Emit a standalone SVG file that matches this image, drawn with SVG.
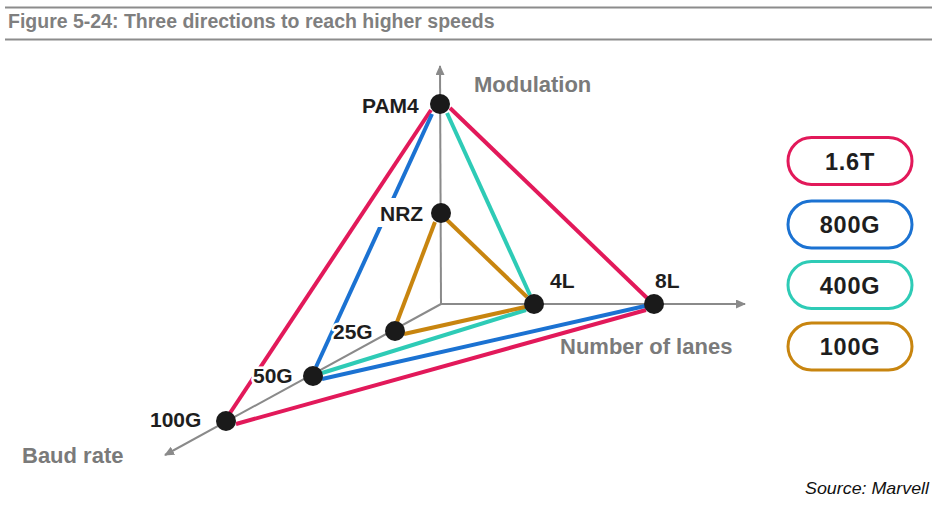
<svg xmlns="http://www.w3.org/2000/svg" width="936" height="508" viewBox="0 0 936 508">
<style>
.rule{stroke:#8c8c8c;stroke-width:2}
.title{font-family:"Liberation Sans",Arial,sans-serif;font-weight:bold;font-size:19.5px;fill:#7f7f7f}
.axis{stroke:#8a8a8a;stroke-width:2;fill:none}
.axlbl{font-family:"Liberation Sans",Arial,sans-serif;font-weight:bold;font-size:22px;fill:#7a7a7a}
.lbl{font-family:"Liberation Sans",Arial,sans-serif;font-weight:bold;font-size:21px;fill:#1e1e1e;stroke:#ffffff;stroke-width:5;paint-order:stroke;stroke-linejoin:round}
.dot{fill:#1a1a1a}
.c{fill:none;stroke-width:4;stroke-linecap:butt}
.red{stroke:#e2195a}
.blue{stroke:#1b72d2}
.teal{stroke:#2ecbb6}
.gold{stroke:#c8850f}
.pill{fill:#ffffff;stroke-width:3}
.ptxt{font-family:"Liberation Sans",Arial,sans-serif;font-weight:bold;font-size:23.5px;fill:#1e1e1e;letter-spacing:0.8px}
.src{font-family:"Liberation Sans",Arial,sans-serif;font-style:italic;font-size:16.5px;fill:#111111}
</style>
<defs>
<marker id="arr" markerUnits="userSpaceOnUse" markerWidth="10" markerHeight="9" refX="9" refY="4.5" orient="auto">
<path d="M0,0 L10,4.5 L0,9 z" fill="#8a8a8a"/>
</marker>
</defs>
<rect width="936" height="508" fill="#ffffff"/>
<g id="header">
<line class="rule" x1="5" y1="7.5" x2="932" y2="7.5"/>
<text class="title" x="8" y="28">Figure 5-24: Three directions to reach higher speeds</text>
<line class="rule" x1="5" y1="39.5" x2="932" y2="39.5"/>
</g>
<g id="axes">
<line class="axis" x1="441" y1="304" x2="440" y2="66" marker-end="url(#arr)"/>
<line class="axis" x1="441" y1="304" x2="745" y2="304" marker-end="url(#arr)"/>
<line class="axis" x1="441" y1="304" x2="165" y2="455" marker-end="url(#arr)"/>
<text class="axlbl" x="474" y="92">Modulation</text>
<text class="axlbl" x="560" y="354">Number of lanes</text>
<text class="axlbl" x="22" y="463">Baud rate</text>
</g>
<g id="connectors">
<line class="c red" x1="431" y1="110" x2="230" y2="413"/>
<line class="c red" x1="450" y1="108" x2="647" y2="298"/>
<line class="c red" x1="236" y1="424" x2="646" y2="310"/>
<line class="c blue" x1="432" y1="114" x2="316" y2="367"/>
<line class="c blue" x1="322" y1="379" x2="645" y2="306"/>
<line class="c teal" x1="447" y1="113" x2="530" y2="295"/>
<line class="c teal" x1="322" y1="373" x2="526" y2="310"/>
<line class="c gold" x1="435" y1="222" x2="397" y2="322"/>
<line class="c gold" x1="447" y1="220" x2="527" y2="297"/>
<line class="c gold" x1="404" y1="334" x2="525" y2="307"/>
</g>
<g id="node-pam4">
<text class="lbl" x="362" y="113">PAM4</text>
<circle class="dot" cx="440" cy="104" r="10"/>
</g>
<g id="node-nrz">
<rect x="376" y="198" width="50" height="29" fill="#ffffff"/>
<text class="lbl" x="380" y="221">NRZ</text>
<circle class="dot" cx="441" cy="213" r="10"/>
</g>
<g id="node-4l">
<text class="lbl" x="550" y="288">4L</text>
<circle class="dot" cx="534" cy="304" r="10"/>
</g>
<g id="node-8l">
<text class="lbl" x="655" y="288">8L</text>
<circle class="dot" cx="654" cy="304" r="10"/>
</g>
<g id="node-25g">
<text class="lbl" x="333" y="339">25G</text>
<circle class="dot" cx="395" cy="331" r="10"/>
</g>
<g id="node-50g">
<text class="lbl" x="253" y="383">50G</text>
<circle class="dot" cx="313" cy="376" r="10"/>
</g>
<g id="node-100g">
<text class="lbl" x="150" y="427">100G</text>
<circle class="dot" cx="226" cy="421" r="10"/>
</g>
<g id="legend-16t">
<rect class="pill" x="788" y="137.5" width="124" height="47" rx="23.5" stroke="#e2195a"/>
<text class="ptxt" x="850" y="169.5" text-anchor="middle">1.6T</text>
</g>
<g id="legend-800g">
<rect class="pill" x="788" y="201" width="124" height="47" rx="23.5" stroke="#1b72d2"/>
<text class="ptxt" x="850" y="233" text-anchor="middle">800G</text>
</g>
<g id="legend-400g">
<rect class="pill" x="788" y="261.5" width="124" height="47" rx="23.5" stroke="#2ecbb6"/>
<text class="ptxt" x="850" y="293.5" text-anchor="middle">400G</text>
</g>
<g id="legend-100g">
<rect class="pill" x="788" y="323" width="124" height="47" rx="23.5" stroke="#c8850f"/>
<text class="ptxt" x="850" y="355" text-anchor="middle">100G</text>
</g>
<text class="src" x="929" y="494" text-anchor="end" textLength="124" lengthAdjust="spacingAndGlyphs">Source: Marvell</text>
</svg>
